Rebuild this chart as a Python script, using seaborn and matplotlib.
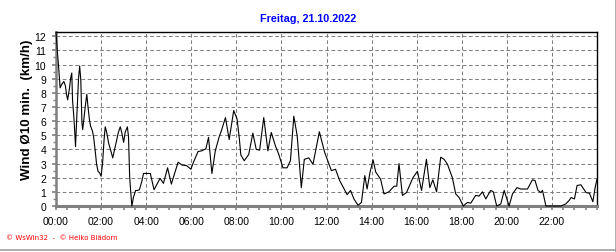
import numpy as np
import pandas as pd
import matplotlib
matplotlib.use("Agg")
import matplotlib.pyplot as plt
from matplotlib.lines import Line2D
from matplotlib.ticker import MultipleLocator
import seaborn as sns

title = "Freitag, 21.10.2022"
ylabel = "Wind \u00d810 min.  (km/h)"
credit = "\u00a9 WsWin32  -  \u00a9 Heiko Bl\u00e4dorn"
xtick_labels = ["00:00", "02:00", "04:00", "06:00", "08:00", "10:00",
                "12:00", "14:00", "16:00", "18:00", "20:00", "22:00"]

minutes = [0, 4, 7, 11, 15, 21, 25, 28, 31, 36, 39, 42, 44, 48, 52, 53, 57, 60, 63, 66,
           69, 71, 75, 78, 82, 85, 89, 92, 97, 100, 105, 108, 112, 116, 120, 124, 128, 131, 135, 140,
           146, 151, 156, 162, 166, 171, 175, 180, 184, 190, 193, 196, 199, 202, 206, 212, 217, 222, 228, 233,
           242, 251, 261, 277, 286, 297, 307, 325, 335, 348, 359, 366, 378, 388, 399, 406, 415, 424, 435, 440,
           451, 461, 473, 482, 488, 492, 501, 513, 524, 533, 542, 553, 564, 573, 584, 593, 604, 615, 624, 633,
           642, 653, 661, 673, 684, 701, 715, 733, 744, 755, 775, 784, 793, 804, 813, 822, 828, 836, 844, 851,
           864, 873, 886, 900, 907, 913, 922, 933, 950, 962, 973, 986, 995, 1003, 1013, 1024, 1033, 1042, 1055, 1064,
           1073, 1084, 1095, 1104, 1117, 1126, 1135, 1144, 1157, 1164, 1173, 1184, 1193, 1200, 1206, 1215, 1227, 1237, 1255, 1268,
           1275, 1283, 1291, 1295, 1304, 1326, 1344, 1357, 1366, 1371, 1380, 1387, 1397, 1411, 1420, 1429, 1435, 1440]

wind = [12.3, 10.8, 9.8, 8.35, 8.6, 8.8, 8.5, 7.9, 7.5, 8.35, 9.05, 9.4, 7.5, 6.1, 4.2, 4.9, 7.3, 9.05, 9.9, 8.9,
        5.9, 5.4, 6.35, 7.05, 7.9, 7.05, 6.1, 5.65, 5.3, 4.9, 3.75, 2.95, 2.45, 2.35, 2.1, 3.05, 4.7, 5.6, 5.2, 4.45,
        3.9, 3.4, 4.0, 4.7, 5.2, 5.6, 5.2, 4.5, 5.2, 5.6, 4.9, 2.1, 0.95, 0.0, 0.6, 1.1, 1.1, 1.15, 1.7, 2.3,
        2.3, 2.3, 1.15, 1.95, 1.6, 2.7, 1.55, 3.1, 2.9, 2.85, 2.6, 3.1, 3.85, 3.9, 4.05, 4.85, 2.3, 3.9, 4.95, 5.3,
        6.25, 4.7, 6.75, 6.15, 4.75, 3.6, 3.2, 3.65, 5.15, 4.0, 3.95, 6.25, 3.9, 5.2, 4.25, 3.65, 2.7, 2.7, 3.2, 6.35,
        4.95, 1.3, 3.3, 3.4, 2.95, 5.25, 3.8, 2.5, 2.6, 1.8, 0.8, 1.1, 0.5, 0.05, 0.25, 2.15, 1.2, 2.4, 3.25, 2.4,
        1.9, 0.85, 1.0, 1.4, 1.4, 3.0, 0.75, 0.95, 2.0, 2.45, 1.1, 3.3, 1.3, 1.85, 1.0, 3.45, 3.3, 2.95, 2.0, 0.85,
        0.6, 0.0, 0.25, 0.2, 0.75, 0.7, 1.0, 0.5, 1.1, 1.0, 0.0, 0.15, 1.1, 0.5, 0.0, 0.85, 1.3, 1.2, 1.2, 1.85,
        1.8, 1.1, 0.95, 1.1, 0.0, 0.0, 0.0, 0.15, 0.4, 0.6, 0.5, 1.45, 1.5, 0.95, 0.9, 0.3, 1.3, 1.9]

df = pd.DataFrame({"hours": np.array(minutes) / 60.0, "wind": wind})

sns.set_style("white")
plt.rcParams["font.family"] = ["Liberation Sans", "DejaVu Sans"]

W, H = 616, 253
fig = plt.figure(figsize=(W / 100, H / 100), dpi=100)
ax = fig.add_axes([56 / W, (H - 207) / H, (597 - 56) / W, (207 - 33) / H])

sns.lineplot(data=df, x="hours", y="wind", ax=ax, color="black", linewidth=0.8)
for ln in ax.lines:
    ln.set_zorder(8)
    ln.set_clip_on(False)

ax.set_xlim(0, 24)
ax.set_ylim(0, 12.3)
ax.set_xticks(np.arange(0, 24, 2))
ax.set_xticklabels(xtick_labels)
ax.xaxis.set_minor_locator(MultipleLocator(0.5))
ax.set_yticks(np.arange(0, 13, 1))
ax.set_yticklabels([str(v) for v in range(13)])
ax.yaxis.set_minor_locator(MultipleLocator(0.5))

ax.grid(True, which="major", color="#808080", linestyle=(0, (3.5, 2.5)), linewidth=0.75)
ax.set_axisbelow(True)

for s in ["top", "right"]:
    ax.spines[s].set_color("black")
    ax.spines[s].set_linewidth(1.0)
ax.spines["bottom"].set_color("#808080")
ax.spines["bottom"].set_linewidth(2.2)
ax.spines["left"].set_color("#808080")
ax.spines["left"].set_linewidth(1.8)
for s in ax.spines.values():
    s.set_zorder(6)

ax.tick_params(axis="both", which="both", direction="out", color="#808080",
               bottom=True, left=True, top=False, right=False)
ax.tick_params(axis="x", which="major", length=3, width=1.2, pad=4, labelsize=7.5, labelcolor="black")
ax.tick_params(axis="x", which="minor", length=3, width=1.2)
ax.tick_params(axis="y", which="major", length=3, width=1.2, pad=4, labelsize=7.5, labelcolor="black")
ax.tick_params(axis="y", which="minor", length=2, width=1.0)

ax.set_xlabel("")
ax.set_ylabel("")

fig.text(308.5 / W, 1 - 18.5 / H, title, ha="center", va="center", color="#0000FF",
         fontsize=7.8, fontweight="bold")
fig.text(27 / W, 1 - 110 / H, ylabel, ha="center", va="center", rotation=90,
         color="black", fontsize=9.6, fontweight="bold")
fig.text(6 / W, 1 - 238 / H, credit, ha="left", va="center", color="#FF0000",
         fontsize=5.0, family=["DejaVu Sans"])

fig.add_artist(Line2D([0, 615.5 / W], [1 - 251 / H, 1 - 251 / H], transform=fig.transFigure,
                      color="#a0a0a0", linewidth=1.2))
fig.add_artist(Line2D([615.5 / W, 615.5 / W], [0, 1], transform=fig.transFigure,
                      color="#a0a0a0", linewidth=1.2))

fig.savefig("out.png", dpi=100, facecolor="white")
